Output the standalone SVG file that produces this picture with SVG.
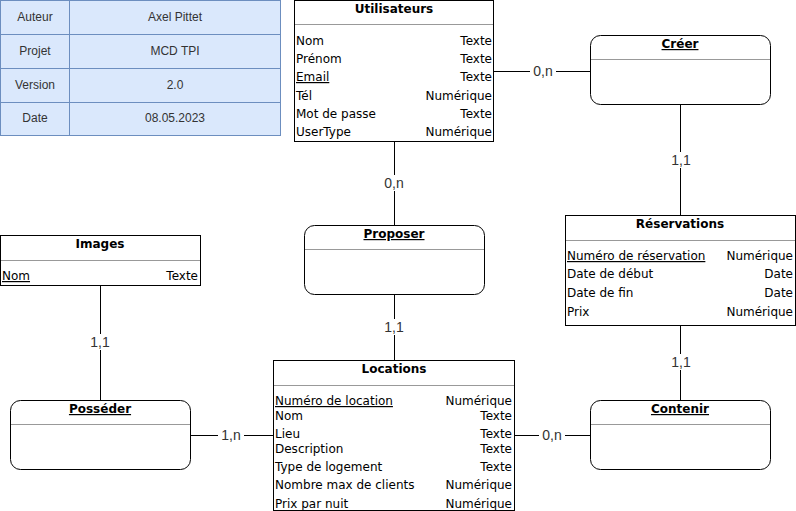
<svg xmlns="http://www.w3.org/2000/svg" width="796" height="511" viewBox="0 0 796 511">
  <style>
    .cell { fill: #dae8fc; stroke: #6c8ebf; stroke-width: 1; }
    .cellt { font-family: "Liberation Sans", Arial, sans-serif; font-size: 12px; fill: #333333; text-anchor: middle; }
    .box { fill: #ffffff; stroke: #000000; stroke-width: 1; }
    .sep { stroke: #999999; stroke-width: 1; }
    .title { font-family: "DejaVu Sans", Verdana, sans-serif; font-size: 12px; font-weight: bold; fill: #000000; text-anchor: middle; }
    .attr { font-family: "DejaVu Sans", Verdana, sans-serif; font-size: 12px; fill: #000000; }
    .r { text-anchor: end; }
    .u { text-decoration: underline; }
    .conn { stroke: #000000; stroke-width: 1; fill: none; }
    .card { font-family: "Liberation Sans", Arial, sans-serif; font-size: 14px; fill: #333333; text-anchor: middle; }
    .card-bg { fill: #ffffff; }
  </style>

  <!-- Info table -->
  <g id="info">
    <rect class="cell" x="0.5" y="0.5" width="69" height="34"/>
    <rect class="cell" x="69.5" y="0.5" width="211" height="34"/>
    <rect class="cell" x="0.5" y="34.5" width="69" height="34"/>
    <rect class="cell" x="69.5" y="34.5" width="211" height="34"/>
    <rect class="cell" x="0.5" y="68.5" width="69" height="34"/>
    <rect class="cell" x="69.5" y="68.5" width="211" height="34"/>
    <rect class="cell" x="0.5" y="102.5" width="69" height="33"/>
    <rect class="cell" x="69.5" y="102.5" width="211" height="33"/>
    <text class="cellt" x="35" y="21">Auteur</text>
    <text class="cellt" x="175" y="21">Axel Pittet</text>
    <text class="cellt" x="35" y="55">Projet</text>
    <text class="cellt" x="175" y="55">MCD TPI</text>
    <text class="cellt" x="35" y="89">Version</text>
    <text class="cellt" x="175" y="89">2.0</text>
    <text class="cellt" x="35" y="122">Date</text>
    <text class="cellt" x="175" y="122">08.05.2023</text>
  </g>

  <!-- Connectors -->
  <g id="connectors">
    <line class="conn" x1="494" y1="71.5" x2="590" y2="71.5"/>
    <line class="conn" x1="680.5" y1="104" x2="680.5" y2="215"/>
    <line class="conn" x1="680.5" y1="325" x2="680.5" y2="400"/>
    <line class="conn" x1="514" y1="435.5" x2="590" y2="435.5"/>
    <line class="conn" x1="190" y1="435.5" x2="273" y2="435.5"/>
    <line class="conn" x1="100.5" y1="285" x2="100.5" y2="400"/>
    <line class="conn" x1="394.5" y1="142" x2="394.5" y2="225"/>
    <line class="conn" x1="394.5" y1="294" x2="394.5" y2="360"/>

    <rect class="card-bg" x="530" y="63" width="26" height="16"/>
    <text class="card" x="543" y="76">0,n</text>
    <rect class="card-bg" x="669" y="152" width="24" height="16"/>
    <text class="card" x="681" y="165">1,1</text>
    <rect class="card-bg" x="669" y="354" width="24" height="16"/>
    <text class="card" x="681" y="367">1,1</text>
    <rect class="card-bg" x="539" y="427" width="26" height="16"/>
    <text class="card" x="552" y="440">0,n</text>
    <rect class="card-bg" x="218" y="427" width="26" height="16"/>
    <text class="card" x="231" y="440">1,n</text>
    <rect class="card-bg" x="88" y="334" width="24" height="16"/>
    <text class="card" x="100" y="347">1,1</text>
    <rect class="card-bg" x="381" y="175" width="26" height="16"/>
    <text class="card" x="394" y="188">0,n</text>
    <rect class="card-bg" x="382" y="319" width="24" height="16"/>
    <text class="card" x="394" y="332">1,1</text>
  </g>

  <!-- Utilisateurs -->
  <g id="utilisateurs">
    <rect class="box" x="294.5" y="0.5" width="199" height="141"/>
    <line class="sep" x1="295" y1="24.5" x2="493" y2="24.5"/>
    <text class="title" x="394" y="13">Utilisateurs</text>
    <text class="attr" x="296" y="45">Nom</text><text class="attr r" x="492" y="45">Texte</text>
    <text class="attr" x="296" y="63">Prénom</text><text class="attr r" x="492" y="63">Texte</text>
    <text class="attr u" x="296" y="81">Email</text><text class="attr r" x="492" y="81">Texte</text>
    <text class="attr" x="296" y="100">Tél</text><text class="attr r" x="492" y="100">Numérique</text>
    <text class="attr" x="296" y="118">Mot de passe</text><text class="attr r" x="492" y="118">Texte</text>
    <text class="attr" x="296" y="136">UserType</text><text class="attr r" x="492" y="136">Numérique</text>
  </g>

  <!-- Créer -->
  <g id="creer">
    <rect class="box" x="590.5" y="35.5" width="180" height="69" rx="10" ry="10"/>
    <line class="sep" x1="591" y1="59.5" x2="770" y2="59.5"/>
    <text class="title u" x="680" y="48">Créer</text>
  </g>

  <!-- Réservations -->
  <g id="reservations">
    <rect class="box" x="565.5" y="215.5" width="230" height="110"/>
    <line class="sep" x1="566" y1="240.5" x2="795" y2="240.5"/>
    <text class="title" x="680" y="228">Réservations</text>
    <text class="attr u" x="567" y="260">Numéro de réservation</text><text class="attr r" x="793" y="260">Numérique</text>
    <text class="attr" x="567" y="278">Date de début</text><text class="attr r" x="793" y="278">Date</text>
    <text class="attr" x="567" y="297">Date de fin</text><text class="attr r" x="793" y="297">Date</text>
    <text class="attr" x="567" y="316">Prix</text><text class="attr r" x="793" y="316">Numérique</text>
  </g>

  <!-- Images -->
  <g id="images">
    <rect class="box" x="0.5" y="235.5" width="200" height="50"/>
    <line class="sep" x1="1" y1="260.5" x2="200" y2="260.5"/>
    <text class="title" x="100" y="248">Images</text>
    <text class="attr u" x="2" y="280">Nom</text><text class="attr r" x="198" y="280">Texte</text>
  </g>

  <!-- Proposer -->
  <g id="proposer">
    <rect class="box" x="304.5" y="225.5" width="180" height="69" rx="10" ry="10"/>
    <line class="sep" x1="305" y1="249.5" x2="484" y2="249.5"/>
    <text class="title u" x="394" y="238">Proposer</text>
  </g>

  <!-- Locations -->
  <g id="locations">
    <rect class="box" x="273.5" y="360.5" width="241" height="150"/>
    <line class="sep" x1="274" y1="385.5" x2="514" y2="385.5"/>
    <text class="title" x="394" y="373">Locations</text>
    <text class="attr u" x="275" y="405">Numéro de location</text><text class="attr r" x="512" y="405">Numérique</text>
    <text class="attr" x="275" y="420">Nom</text><text class="attr r" x="512" y="420">Texte</text>
    <text class="attr" x="275" y="438">Lieu</text><text class="attr r" x="512" y="438">Texte</text>
    <text class="attr" x="275" y="453">Description</text><text class="attr r" x="512" y="453">Texte</text>
    <text class="attr" x="275" y="471">Type de logement</text><text class="attr r" x="512" y="471">Texte</text>
    <text class="attr" x="275" y="489">Nombre max de clients</text><text class="attr r" x="512" y="489">Numérique</text>
    <text class="attr" x="275" y="508">Prix par nuit</text><text class="attr r" x="512" y="508">Numérique</text>
  </g>

  <!-- Posséder -->
  <g id="posseder">
    <rect class="box" x="10.5" y="400.5" width="180" height="69" rx="10" ry="10"/>
    <line class="sep" x1="11" y1="424.5" x2="190" y2="424.5"/>
    <text class="title u" x="100" y="413">Posséder</text>
  </g>

  <!-- Contenir -->
  <g id="contenir">
    <rect class="box" x="590.5" y="400.5" width="180" height="69" rx="10" ry="10"/>
    <line class="sep" x1="591" y1="424.5" x2="770" y2="424.5"/>
    <text class="title u" x="680" y="413">Contenir</text>
  </g>
</svg>
